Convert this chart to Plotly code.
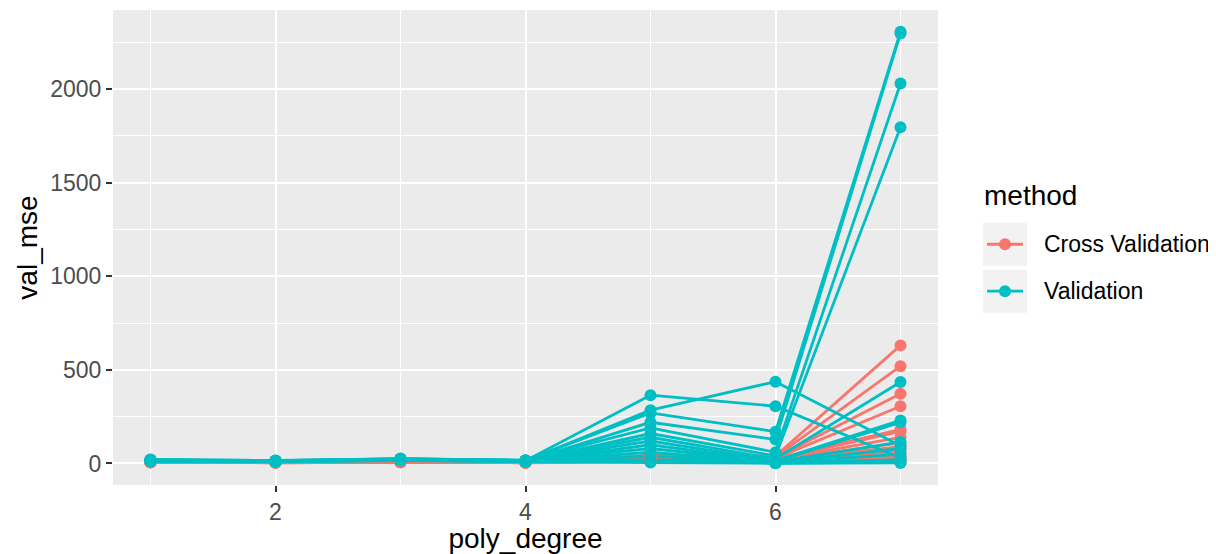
import plotly.graph_objects as go

# ---------------- data ----------------
poly_degree = [1, 2, 3, 4, 5, 6, 7]

validation_runs = [
    [18, 14, 22, 15, 365, 306, 30],
    [16, 12, 20, 14, 285, 437, 95],
    [20, 15, 25, 16, 270, 170, 2307],
    [15, 13, 21, 13, 220, 128, 2298],
    [19, 16, 24, 17, 190, 60, 2030],
    [14, 11, 19, 12, 160, 40, 1797],
    [17, 13, 23, 15, 140, 25, 435],
    [21, 15, 26, 16, 120, 15, 230],
    [13, 10, 18, 11, 100, 10, 220],
    [16, 12, 22, 14, 80, 8, 115],
    [18, 14, 20, 13, 60, 5, 80],
    [12, 10, 17, 10, 40, 4, 50],
    [15, 11, 21, 12, 20, 3, 20],
    [19, 13, 24, 15, 10, 2, 8],
    [11, 9, 16, 9, 5, 1, 3],
]

cv_runs = [
    [8, 6, 9, 6, 45, 40, 631],
    [7, 5, 8, 5, 40, 35, 520],
    [9, 6, 10, 7, 38, 30, 373],
    [6, 5, 7, 5, 35, 28, 306],
    [8, 6, 9, 6, 33, 25, 182],
    [7, 5, 8, 5, 30, 22, 172],
    [9, 7, 10, 7, 28, 20, 140],
    [6, 4, 7, 4, 26, 18, 110],
    [8, 6, 9, 6, 24, 16, 90],
    [7, 5, 8, 5, 22, 14, 70],
    [9, 6, 9, 6, 20, 12, 55],
    [6, 5, 7, 5, 18, 10, 40],
    [8, 6, 8, 6, 15, 8, 30],
    [7, 5, 9, 5, 12, 6, 20],
    [6, 4, 7, 4, 10, 5, 10],
]

methods = ["Cross Validation", "Validation"]
colors = {"Cross Validation": "#F8766D", "Validation": "#00BFC4"}

# ---------------- figure ----------------
def flatten(runs):
    xs, ys = [], []
    for r in runs:
        xs += poly_degree + [None]
        ys += r + [None]
    return xs, ys

series = {"Cross Validation": cv_runs, "Validation": validation_runs}

fig = go.Figure()
# lines layer
for m in methods:
    xs, ys = flatten(series[m])
    fig.add_trace(go.Scatter(x=xs, y=ys, mode="lines", name=m,
                             line=dict(color=colors[m], width=2.8),
                             showlegend=False, hoverinfo="skip"))
# points layer
for m in methods:
    xs, ys = flatten(series[m])
    fig.add_trace(go.Scatter(x=xs, y=ys, mode="markers", name=m,
                             marker=dict(color=colors[m], size=12, line=dict(width=0)),
                             showlegend=False))

# panel pixel geometry (page coordinates)
L, R, T, B = 113, 938, 10, 485.5
W, H = 1216, 554
OFF = 8  # default page body margin

def px(xp):
    return (xp - L) / (R - L)

def py(yp):
    return (B - yp) / (B - T)

FONT = "Liberation Sans, Arial, sans-serif"
shapes = []
annotations = []
# custom legend (ggplot-style)
annotations.append(dict(text="method", x=px(982), y=py(196), xref="paper", yref="paper",
                        xanchor="left", yanchor="middle", showarrow=False,
                        font=dict(size=28, color="#000000", family=FONT)))
key_tops = [223, 270]
for m, top in zip(methods, key_tops):
    cy = top + 21.5
    shapes.append(dict(type="rect", xref="paper", yref="paper",
                       x0=px(983), x1=px(1027), y0=py(top), y1=py(top + 43),
                       fillcolor="#F2F2F2", line=dict(width=0), layer="above"))
    shapes.append(dict(type="line", xref="paper", yref="paper",
                       x0=px(987), x1=px(1023), y0=py(cy), y1=py(cy),
                       line=dict(color=colors[m], width=2.8), layer="above"))
    shapes.append(dict(type="circle", xref="paper", yref="paper",
                       x0=px(1005 - 6), x1=px(1005 + 6), y0=py(cy - 6), y1=py(cy + 6),
                       fillcolor=colors[m], line=dict(width=0), layer="above"))
    annotations.append(dict(text=m, x=px(1042), y=py(cy), xref="paper", yref="paper",
                            xanchor="left", yanchor="middle", showarrow=False,
                            font=dict(size=23, color="#000000", family=FONT)))

fig.update_layout(
    width=W - OFF, height=H - OFF,
    margin=dict(l=L - OFF, r=W - R, t=T - OFF, b=H - B, autoexpand=False),
    paper_bgcolor="#FFFFFF",
    plot_bgcolor="#EBEBEB",
    font=dict(family=FONT, color="#000000"),
    showlegend=False,
    shapes=shapes,
    annotations=annotations,
    xaxis=dict(
        range=[0.7, 7.3], tickmode="linear", tick0=2, dtick=2,
        showgrid=True, gridcolor="#FFFFFF", gridwidth=2,
        minor=dict(tickmode="linear", tick0=1, dtick=1, showgrid=True, gridcolor="#FFFFFF", gridwidth=1),
        zeroline=False, showline=False,
        ticks="outside", ticklen=6, tickwidth=2, tickcolor="#333333",
        tickfont=dict(size=23, color="#4D4D4D"),
        title=dict(text="poly_degree", font=dict(size=28, color="#000000"), standoff=4),
    ),
    yaxis=dict(
        range=[-115, 2423], tickmode="linear", tick0=0, dtick=500,
        showgrid=True, gridcolor="#FFFFFF", gridwidth=2,
        minor=dict(tickmode="linear", tick0=250, dtick=500, showgrid=True, gridcolor="#FFFFFF", gridwidth=1),
        zeroline=False, showline=False,
        ticks="outside", ticklen=6, tickwidth=2, tickcolor="#333333",
        tickfont=dict(size=23, color="#4D4D4D"),
        title=dict(text="val_mse", font=dict(size=28, color="#000000"), standoff=4),
    ),
)

fig.write_html("out.html")
